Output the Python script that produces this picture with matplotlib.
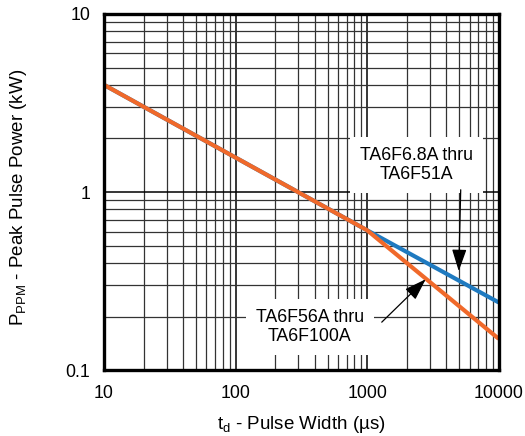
import matplotlib
matplotlib.use("Agg")
import matplotlib.pyplot as plt
from matplotlib.ticker import LogLocator, FixedLocator, NullFormatter

plt.rcParams['font.family'] = ['Liberation Sans', 'DejaVu Sans']
plt.rcParams['mathtext.fontset'] = 'custom'
plt.rcParams['mathtext.rm'] = 'Liberation Sans'
plt.rcParams['mathtext.it'] = 'Liberation Sans'

# Data (pulse width in µs, peak pulse power in kW)
t_blue = [10, 1000, 10000]
p_blue = [4.0, 0.61, 0.24]
t_orange = [10, 1000, 10000]
p_orange = [4.0, 0.61, 0.15]

x_ticks = [10, 100, 1000, 10000]
x_labels = ['10', '100', '1000', '10000']
y_ticks = [0.1, 1, 10]
y_labels = ['0.1', '1', '10']

label_a = 'TA6F6.8A thru\nTA6F51A'
label_b = 'TA6F56A thru\nTA6F100A'

fs = 12.8

fig = plt.figure(figsize=(5.25, 4.36), dpi=100)
ax = fig.add_axes([0.198, 0.151, 0.752, 0.817])
ax.set_xscale('log')
ax.set_yscale('log')
ax.set_xlim(10, 10000)
ax.set_ylim(0.1, 10)

ax.xaxis.set_major_locator(FixedLocator(x_ticks))
ax.set_xticklabels(x_labels)
ax.yaxis.set_major_locator(FixedLocator(y_ticks))
ax.set_yticklabels(y_labels)
ax.xaxis.set_minor_locator(LogLocator(base=10, subs=range(2, 10)))
ax.yaxis.set_minor_locator(LogLocator(base=10, subs=range(2, 10)))
ax.xaxis.set_minor_formatter(NullFormatter())
ax.yaxis.set_minor_formatter(NullFormatter())
ax.tick_params(which='both', length=0)
ax.tick_params(axis='x', pad=11, labelsize=fs)
ax.tick_params(axis='y', pad=10, labelsize=fs)

ax.grid(which='major', color='black', lw=1.1, zorder=1)
ax.grid(which='minor', color='#333333', lw=0.9, zorder=1)
ax.set_axisbelow(True)
for s in ax.spines.values():
    s.set_linewidth(2.4)
    s.set_zorder(6)

ax.plot(t_blue, p_blue, color='#1f7ac0', lw=3.0, zorder=3, solid_capstyle='butt')
ax.plot(t_orange, p_orange, color='#f0692a', lw=3.0, zorder=4, solid_capstyle='butt')

ax.text(2382, 1.42, label_a, ha='center', va='center', fontsize=fs,
        linespacing=1.2, zorder=5,
        bbox=dict(boxstyle='square,pad=0.55', facecolor='white', edgecolor='none'))
ax.text(367, 0.175, label_b, ha='center', va='center', fontsize=fs,
        linespacing=1.2, zorder=5,
        bbox=dict(boxstyle='square,pad=0.55', facecolor='white', edgecolor='none'))

arrow_kw = dict(arrowstyle='-|>,head_length=0.9,head_width=0.3', color='black',
                lw=0.9, shrinkA=0, shrinkB=0, mutation_scale=15)
ax.annotate('', xy=(4966, 0.36), xytext=(5140, 1.03), arrowprops=arrow_kw, zorder=5)
ax.annotate('', xy=(2787, 0.324), xytext=(1291, 0.186), arrowprops=arrow_kw, zorder=5)

ax.set_xlabel(r't$_\mathrm{d}$ - Pulse Width (µs)', fontsize=13.5, labelpad=8)
ax.set_ylabel(r'P$_\mathrm{PPM}$ - Peak Pulse Power (kW)', fontsize=13.5)
ax.yaxis.set_label_coords(-0.19, 0.486)

fig.savefig('out.png', dpi=100)
